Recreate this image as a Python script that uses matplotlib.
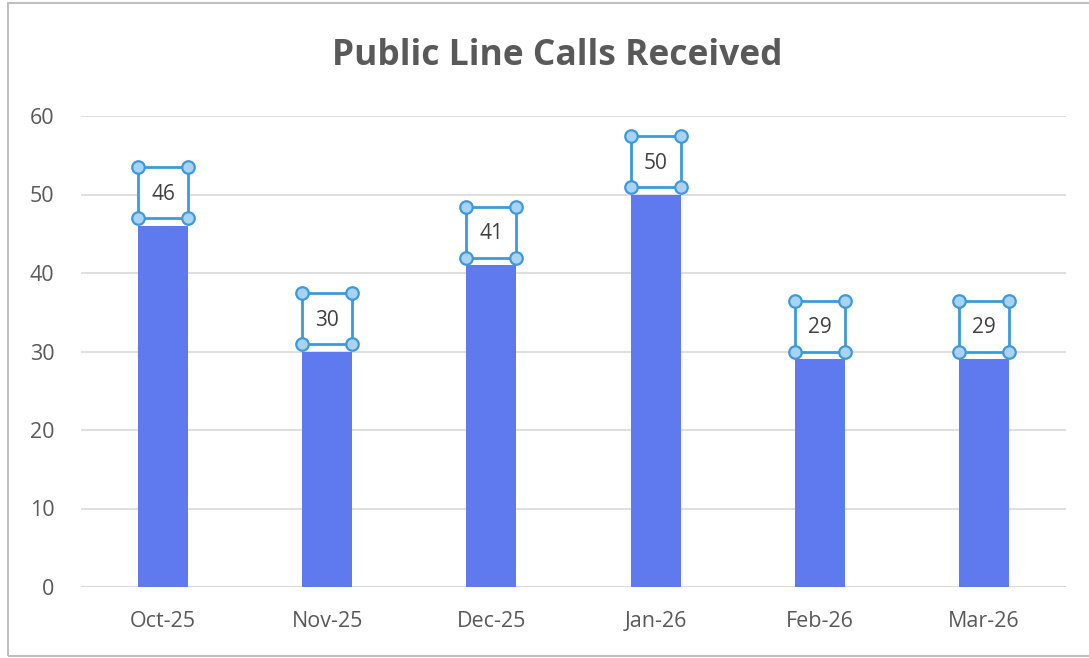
import matplotlib
matplotlib.use("Agg")
import matplotlib.pyplot as plt
from matplotlib.patches import Rectangle

categories = ["Oct-25", "Nov-25", "Dec-25", "Jan-26", "Feb-26", "Mar-26"]
values = [46, 30, 41, 50, 29, 29]
yticks = [0, 10, 20, 30, 40, 50, 60]
title = "Public Line Calls Received"

W, H, DPI = 1089, 658, 100
fig = plt.figure(figsize=(W / DPI, H / DPI), dpi=DPI)
plt.rcParams['font.family'] = ['Open Sans', 'DejaVu Sans']

x0, x1 = 81, 1066
y0, y1 = 587, 116
ax = fig.add_axes([x0 / W, 1 - y0 / H, (x1 - x0) / W, (y0 - y1) / H])

bar_w = 0.305
bar_color = "#5F7AEE"
xs = list(range(len(categories)))
ax.bar(xs, values, width=bar_w, color=bar_color, zorder=3)

ax.set_xlim(-0.5, len(categories) - 0.5)
ax.set_ylim(0, 60)
ax.set_yticks(yticks)
ax.set_xticks(xs)
ax.set_xticklabels(categories)
ax.grid(axis='y', color="#D9D9D9", linewidth=1.2, zorder=0)
for s in ax.spines.values():
    s.set_visible(False)
ax.axhline(0, color="#D9D9D9", linewidth=1.4, zorder=2)
ax.tick_params(axis='both', length=0, labelsize=15.5, colors="#595959")
ax.tick_params(axis='y', pad=19)
ax.tick_params(axis='x', pad=17)

box_color = "#3C99DC"
for xi, v in zip(xs, values):
    lo, hi = v + 0.95, v + 7.45
    left, right = xi - bar_w / 2, xi + bar_w / 2
    ax.add_patch(Rectangle((left, lo), bar_w, hi - lo, fill=True, facecolor="white",
                           edgecolor=box_color, linewidth=2, zorder=4, clip_on=False))
    ax.text(xi, (lo + hi) / 2 - 0.2, str(v), ha='center', va='center', fontsize=15,
            color="#404040", zorder=5)
    ax.plot([left, right, left, right], [lo, lo, hi, hi], linestyle='none', marker='o',
            markersize=9, markerfacecolor="#A9D3F5", markeredgecolor=box_color,
            markeredgewidth=1.6, zorder=6, clip_on=False)

fig.text(557 / W, 1 - 56 / H, title, ha='center', va='center', fontsize=25.5,
         fontweight='bold', color="#595959")

fig.add_artist(Rectangle((8 / W, 2 / H), 1.2, 1 - 5 / H, transform=fig.transFigure,
                         fill=False, edgecolor="#BFBFBF", linewidth=1.5))

fig.savefig("out.png", dpi=DPI)
